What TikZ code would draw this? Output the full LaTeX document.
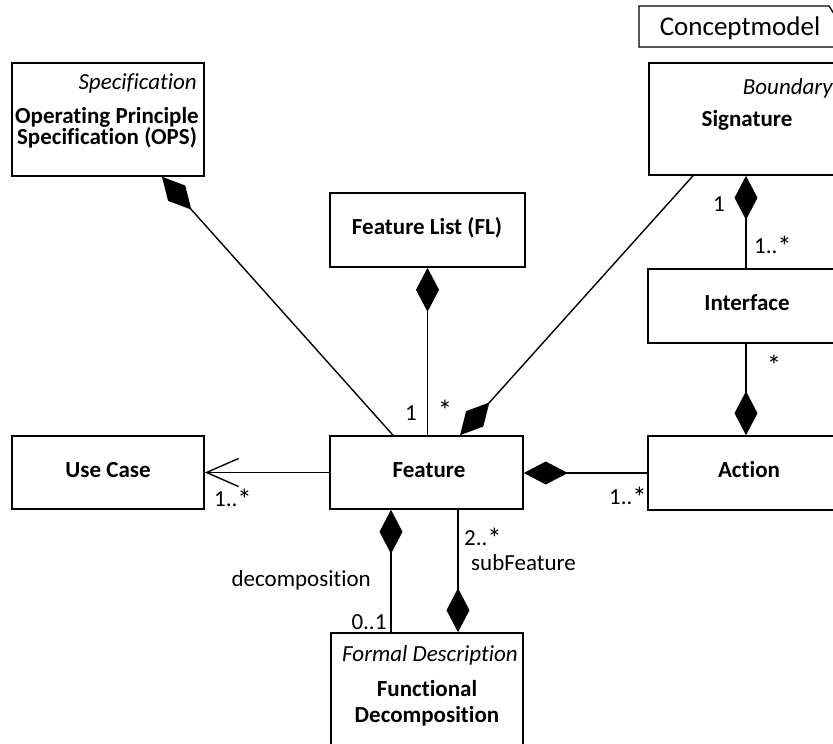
\documentclass[tikz,border=0pt]{standalone}
\usepackage{fontspec}
\usepackage{graphicx}
\setmainfont{Carlito}[Ligatures=NoCommon]
\usetikzlibrary{arrows.meta,calc}
% a slightly larger multiplicity star
\newcommand{\mstar}{\raisebox{-2.5pt}{\scalebox{1.25}{*}}}

\begin{document}
\begin{tikzpicture}[x=1pt,y=-1pt,
  txt/.style={inner sep=0pt,font=\fontsize{23}{27}\selectfont},
  bold/.style={txt,font=\fontsize{23}{27}\selectfont\bfseries},
  cls/.style={draw,line width=1.6pt,inner sep=0pt,fill=white},
  conn/.style={line width=1.4pt},
  comp/.tip={Diamond[length=44pt,width=23pt,fill=black]},
  nav/.tip={Straight Barb[length=32pt,width=28pt,line width=1.4pt]}
]
\useasboundingbox (0,0) rectangle (833,744);
\clip (0,0) rectangle (833,744);

% package tab
\draw[line width=1.3pt] (850,47) -- (639,47) -- (639,6) -- (829,6) -- (836,17);
\node[txt,font=\fontsize{27}{32}\selectfont] (pkg) at (740,28) {Conceptmodel};

% classes
\node[cls,minimum width=192,minimum height=113] (ops) at (108,119.5) {};
\node[cls,minimum width=194,minimum height=112] (sig) at (746,119) {};
\node[cls,minimum width=195,minimum height=74] (fl) at (427.5,230) {};
\node[cls,minimum width=196,minimum height=74] (intf) at (746,306) {};
\node[cls,minimum width=192,minimum height=73] (uc) at (108,472.5) {};
\node[cls,minimum width=193,minimum height=73] (fea) at (426.5,472.5) {};
\node[cls,minimum width=196,minimum height=74] (act) at (746,473) {};
\node[cls,minimum width=192,minimum height=147] (fd) at (427,706.5) {};

% class texts
\node[txt,anchor=east] (opsst) at (197,83) {\itshape Specification};
\node[bold,align=center,font=\fontsize{23}{21}\selectfont\bfseries] (opsname) at (107,128) {Operating Principle\\Specification (OPS)};
\node[txt,anchor=east] (sigst) at (833,88) {\itshape Boundary};
\node[bold] (signame) at (747,120) {Signature};
\node[bold] (flname) at (427,228) {Feature List (FL)};
\node[bold] (intfname) at (747,303) {Interface};
\node[bold] (ucname) at (108,470) {Use Case};
\node[bold] (feaname) at (429,470) {Feature};
\node[bold] (actname) at (749,470) {Action};
\node[txt,anchor=east] (fdst) at (518,655) {\itshape Formal Description};
\node[bold,align=center,font=\fontsize{23}{26}\selectfont\bfseries] (fdname) at (427,703) {Functional\\Decomposition};

% associations
\draw[conn,comp-] ($(ops.south)+(54,0)$) -- ($(fea.north)+(-33.5,0)$);
\draw[conn,comp-] (fl.south) -- (fl.south |- fea.north);
\draw[conn,-comp] ($(sig.south)+(-53,0)$) -- ($(fea.north)+(33.5,0)$);
\draw[conn,comp-] (sig.south) -- (intf.north);
\draw[conn,-comp] (intf.south) -- (act.north);
\draw[conn,-comp] (act.west) -- (act.west -| fea.east);
\draw[conn,-nav] (fea.west) -- (fea.west -| uc.east);
\draw[conn,comp-] ($(fea.south)+(-35.5,0)$) -- ($(fd.north)+(-36,0)$);
\draw[conn,-comp] ($(fea.south)+(31.5,0)$) -- ($(fd.north)+(31,0)$);

% multiplicities and role names
\node[txt] (m1) at (411,413) {1};
\node[txt] (m2) at (445,410) {\mstar};
\node[txt] (m3) at (719,204) {1};
\node[txt] (m4) at (773,246) {1..\mstar};
\node[txt] (m5) at (774,365) {\mstar};
\node[txt] (m6) at (628,497) {1..\mstar};
\node[txt] (m7) at (233,499) {1..\mstar};
\node[txt,anchor=east] (r1) at (371,580) {decomposition};
\node[txt] (m8) at (369,622) {0..1};
\node[txt] (m9) at (483,538) {2..\mstar};
\node[txt,anchor=west] (r2) at (471,563) {subFeature};
\end{tikzpicture}
\end{document}
